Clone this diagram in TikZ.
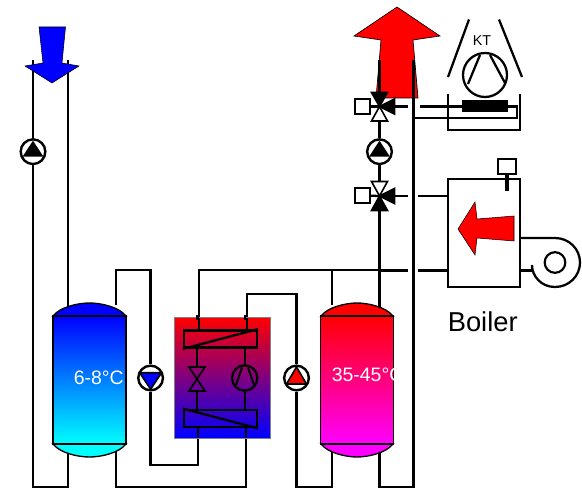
\documentclass[tikz,border=0pt]{standalone}
\usepackage{fontspec}
\setmainfont{Liberation Sans}
\tikzset{
  pipe/.style={line width=1.7pt,line join=miter},
  pumpnode/.style={circle,draw,line width=1.8pt,fill=white,minimum size=18.5pt,inner sep=0pt},
  compnode/.style={circle,draw,line width=1.7pt,inner sep=0pt},
  squarenode/.style={rectangle,draw,line width=1.6pt,fill=white,inner sep=0pt,minimum width=11pt,minimum height=11pt},
  hxbox/.style={rectangle,draw,line width=1.8pt,inner sep=0pt,minimum width=54.5pt,minimum height=13pt},
  tankbody/.style={rectangle,draw,line width=1.1pt,inner sep=0pt,minimum width=54.5pt,minimum height=96pt},
  tankcap/.style={draw=black,line width=1pt},
  tanktext/.style={text=white,font=\fontsize{14.6}{16}\selectfont,inner sep=0pt},
  tri/.style={draw,line width=1.2pt,line join=miter},
}
\begin{document}
\begin{tikzpicture}[x=.75pt,y=-.75pt]
\useasboundingbox (0,0) rectangle (582,488);
% ---- positions
\coordinate (a1) at (33,60); \coordinate (b1) at (33,487); \coordinate (a2) at (68,60); \coordinate (b2) at (68,487);
\coordinate (c1) at (116,305); \coordinate (c2) at (116,270); \coordinate (c3) at (150.6,270);
\coordinate (c4) at (116,487); \coordinate (c5) at (246,487);
\coordinate (d1) at (150.6,465); \coordinate (d2) at (198,465);
\coordinate (e1) at (199,270); \coordinate (e2) at (379.5,270);
\coordinate (f1) at (247,294); \coordinate (f2) at (296.5,294); \coordinate (f3) at (296.5,487); \coordinate (f4) at (332,487);
\coordinate (g0) at (332,270); \coordinate (g1) at (332,305); \coordinate (g2) at (332,450);
\coordinate (h0) at (379.5,60); \coordinate (h1) at (379.5,450); \coordinate (h2) at (379.5,487);
\coordinate (i0) at (413.5,60); \coordinate (i1) at (413.5,487);
\coordinate (v1) at (379.5,106.5); \coordinate (v2) at (379.5,196);
% ---- red outgoing arrow (behind the pipes)
\draw[fill=red,line width=.5pt] (397,7) -- (440,36) -- (413,40) -- (418,98) -- (376,98) -- (381,40) -- (354,36) -- cycle;
% ---- pumps
\node[pumpnode] (p1) at (33,151.7) {};
\node[pumpnode] (p2) at (150.6,378) {};
\node[pumpnode] (p3) at (296.5,378) {};
\node[pumpnode] (p4) at (379.5,151.7) {};
% ---- pipes
\draw[pipe] (a1) -- (p1) -- (b1) -- (b2) -- (a2);
\draw[pipe] (c1) -- (c2) -- (c3) -- (p2) -- (d1) -- (d2) -- (198,427);
\draw[pipe] (116,450) -- (c4) -- (c5) -- (246,427);
\draw[pipe] (199,330) -- (e1) -- (e2);
\draw[pipe] (247,330) -- (f1) -- (f2) -- (p3) -- (f3) -- (f4) -- (g2);
\draw[pipe] (g0) -- (g1);
\draw[pipe] (h0) -- (v1) -- (p4) -- (v2) -- (h1) -- (h2) -- (i1) -- (i0);
% ---- tanks
\shade[top color=blue,bottom color=blue,tankcap] (53,316) .. controls (60,307) and (78,303) .. (89.5,303) .. controls (101,303) and (119,307) .. (126,316) -- cycle;
\shade[top color=cyan,bottom color=cyan,tankcap] (53,444) .. controls (60,453) and (78,457) .. (89.5,457) .. controls (101,457) and (119,453) .. (126,444) -- cycle;
\node[tankbody,top color=blue,bottom color=cyan] (t1) at (89.5,380) {};
\shade[top color=red,bottom color=red,tankcap] (321,316) .. controls (328,307) and (346,303) .. (357,303) .. controls (368,303) and (386,307) .. (393,316) -- cycle;
\shade[top color=magenta,bottom color=magenta,tankcap] (321,444) .. controls (328,453) and (346,457) .. (357,457) .. controls (368,457) and (386,453) .. (393,444) -- cycle;
\node[tankbody,top color=red,bottom color=magenta] (t2) at (357,380) {};
\node[tanktext,anchor=west] (t1label) at (73.5,378) {6-8°C};
\node[tanktext,anchor=west] (t2label) at (331.5,375) {35-45°C};
% ---- heat pump
\node[rectangle,draw=gray,line width=.4pt,inner sep=0pt,minimum width=72pt,minimum height=90.7pt,top color=red,bottom color=blue] (hp) at (222.3,377.5) {};
\draw[pipe] (197.5,315) -- (197.5,320);
\draw[pipe] (245,315) -- (245,320);
\draw[pipe] (199,318) -- (199,330);
\draw[pipe] (247,318) -- (247,330);
\node[hxbox] (hx1) at (220.5,339) {};
\node[hxbox] (hx2) at (220.5,418.5) {};
\draw[pipe] (hx1.south west) -- (hx1.north east);
\draw[pipe] (hx2.north west) -- (hx2.south east);
\draw[line width=1.3pt,line join=miter] (197,410) -- (197,391) (197,391) -- (205,391) -- (189,367) -- (205,367) -- (189,391) -- (197,391) (197,367) -- (197,348);
\draw[pipe] (198,427) -- (198,438);
\draw[pipe] (246,427) -- (246,438);
\node[compnode,minimum size=19pt] (comp1) at (244.7,378) {};
\draw[pipe] (hx1.south -| comp1) -- (comp1);
\draw[pipe] (comp1) -- (hx2.north -| comp1);
\draw[line width=1.5pt] (236,385) -- (242,367.5) (248,367.5) -- (254,385);
% ---- pump triangles
\fill (p1) ++(0,-11) -- ++(10.5,16) -- ++(-21,0) -- cycle;
\draw[tri,fill=blue] (p2) ++(-11,-5.3) -- ++(22,0) -- ++(-11,16.5) -- cycle;
\draw[tri,fill=red] (p3) ++(0,-11) -- ++(10,17) -- ++(-20,0) -- cycle;
\fill (p4) ++(0,-11) -- ++(10.5,16) -- ++(-21,0) -- cycle;
% ---- valves
\node[squarenode] (s1) at (362.5,106.5) {};
\node[squarenode] (s2) at (362.5,195.5) {};
\draw[pipe] (s1) -- (v1);
\draw[pipe] (s2) -- (v2);
\draw[tri,fill=black] (v1) -- ++(-8,-14) -- ++(16,0) -- cycle;
\draw[tri,fill=black] (v1) -- ++(15,-7.5) -- ++(0,15) -- cycle;
\draw[tri,fill=white] (v1) -- ++(-8,14.5) -- ++(16,0) -- cycle;
\draw[tri,fill=white] (v2) -- ++(-8,-14.5) -- ++(16,0) -- cycle;
\draw[tri,fill=black] (v2) -- ++(15,-7.5) -- ++(0,15) -- cycle;
\draw[tri,fill=black] (v2) -- ++(-8,14.5) -- ++(16,0) -- cycle;
% ---- cooling tower KT
\coordinate (k1) at (408,106.5); \coordinate (k2) at (420,106.5); \coordinate (k3) at (517,106.5); \coordinate (k4) at (517,118); \coordinate (k5) at (413.5,118);
\draw[pipe] (v1) -- (k1);
\draw[pipe] (k2) -- (k3) -- (k4) -- (k5);
\draw[pipe] (448,94) -- (448,130) -- (520,130) -- (520,94);
\foreach \cx in {463,465,...,507} \draw[line width=1.25pt] (\cx,100) -- (\cx,112);
\draw[pipe] (448,77) -- (469,19.5);
\draw[pipe] (522,77) -- (499,19.5);
\node[compnode,minimum size=33pt] (comp2) at (485,75) {};
\draw[pipe] (468,84) -- (480,55) (490,55) -- (505,83);
\node[inner sep=0pt,font=\fontsize{10.7}{12}\selectfont] (kt) at (482,41) {KT};
% ---- boiler
\node[rectangle,draw,line width=1.6pt,inner sep=0pt,minimum width=54pt,minimum height=81.5pt,fill=white] (boiler) at (484,233) {};
\draw[pipe] (v2) -- (408,196);
\draw[pipe] (418,196) -- (boiler.west |- 418,196);
\draw[pipe] (379.5,270.5) -- (408,270.5);
\draw[pipe] (418,270.5) -- (boiler.west |- 418,270.5);
\node[squarenode,minimum width=13pt] (s3) at (507,166.5) {};
\draw[line width=3pt] (s3.south) -- (507,191);
\draw[fill=red,line width=.4pt] (458,229) -- (475,202) -- (477,219) -- (514,216) -- (514,241) -- (477,238) -- (475,255) -- cycle;
\node[circle,draw,line width=1.6pt,minimum size=15.5pt,inner sep=0pt] (fan) at (555,262.5) {};
\draw[pipe] (boiler.east |- 520,238) -- (555,238) .. controls (569,238) and (580,249) .. (580,262.5) .. controls (580,276) and (569,287) .. (555,287) .. controls (541,287) and (532,276) .. (532,265);
\draw[pipe] (boiler.east |- 520,270.5) -- (532,270.5);
\node[inner sep=0pt,anchor=west,font=\fontsize{20.5}{24}\selectfont] (boilerlabel) at (447.5,322) {Boiler};
% ---- blue incoming arrow
\draw[fill=blue,line width=.4pt] (39,27) -- (65.5,27) -- (62,63) -- (79,66) -- (52,83) -- (25,66) -- (43,63) -- cycle;
\end{tikzpicture}
\end{document}
